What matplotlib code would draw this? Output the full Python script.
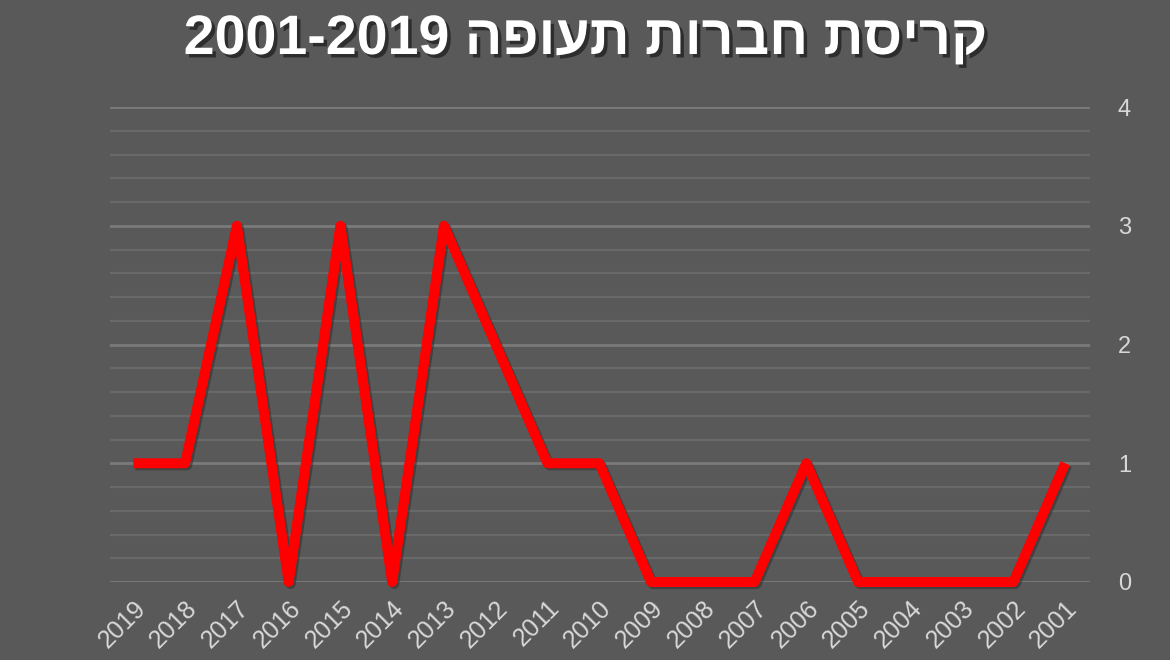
import matplotlib
matplotlib.use("Agg")
import matplotlib.pyplot as plt
import matplotlib.patheffects as pe
from matplotlib.ticker import MultipleLocator

years = ["2019", "2018", "2017", "2016", "2015", "2014", "2013", "2012", "2011", "2010",
         "2009", "2008", "2007", "2006", "2005", "2004", "2003", "2002", "2001"]
collapses = [1, 1, 3, 0, 3, 0, 3, 2, 1, 1, 0, 0, 0, 1, 0, 0, 0, 0, 1]
y_ticks = [0, 1, 2, 3, 4]
title_logical = "קריסת חברות תעופה"
title_years = "2001-2019"

BG = "#595959"
fig = plt.figure(figsize=(11.7, 6.6), dpi=100, facecolor=BG)
ax = fig.add_axes([110 / 1170, 1 - 582 / 660, 980 / 1170, (582 - 107) / 660])
ax.set_facecolor(BG)

x = list(range(len(years)))
ax.plot(x, collapses, color="#ff0000", lw=7.2, solid_joinstyle="round",
        solid_capstyle="butt", clip_on=False, zorder=5,
        path_effects=[pe.SimpleLineShadow(offset=(1.5, -1.5), shadow_color="#2a2a2a", alpha=0.5),
                      pe.Normal()])

ax.set_xlim(-0.45, len(years) - 1 + 0.48)
ax.set_ylim(0, 4)
ax.set_xticks(x)
ax.set_xticklabels(years, rotation=45, ha="right", va="top", rotation_mode="anchor",
                   fontsize=18, color="#d8d8d8", family="Liberation Sans")
ax.set_yticks(y_ticks)
ax.set_yticklabels([str(v) for v in y_ticks], fontsize=17, color="#d8d8d8",
                   family="Liberation Sans")
ax.yaxis.tick_right()
ax.yaxis.set_minor_locator(MultipleLocator(0.2))
ax.tick_params(axis="both", which="both", length=0)
ax.tick_params(axis="y", pad=20)
ax.tick_params(axis="x", pad=10)

ax.grid(axis="y", which="major", color="#7a7a7a", lw=2.0)
ax.grid(axis="y", which="minor", color="#696969", lw=1.6)
ax.grid(axis="x", visible=False)
ax.set_axisbelow(True)
for s in ax.spines.values():
    s.set_visible(False)

visual_title = title_years + " " + title_logical[::-1]
fig.text(0.5, 1 - 40 / 660, visual_title, ha="center", va="center", fontsize=40,
         fontweight="bold", color="white", family=["Liberation Sans", "DejaVu Sans"],
         path_effects=[pe.withSimplePatchShadow(offset=(2.5, -2.5), shadow_rgbFace="#222222", alpha=0.8)])

fig.savefig("out.png", dpi=100, facecolor=BG)
